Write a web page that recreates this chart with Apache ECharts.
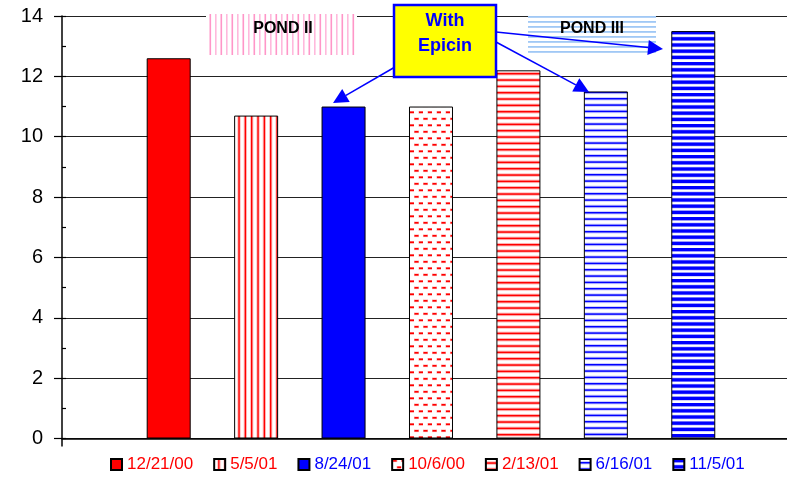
<!DOCTYPE html>
<html>
<head>
<meta charset="utf-8">
<script src="https://cdn.jsdelivr.net/npm/echarts@6/dist/echarts.min.js"></script>
<style>
  html, body { margin: 0; padding: 0; background: #fff; }
  #chart { width: 787px; height: 477px; }
</style>
</head>
<body>
<div id="chart"></div>
<script>
// Sampling dates (one bar each) and the measured values
const dates = ['12/21/00', '5/5/01', '8/24/01', '10/6/00', '2/13/01', '6/16/01', '11/5/01'];
const values = [12.6, 10.7, 11.0, 11.0, 12.2, 11.5, 13.5];

// Value axis range and step
const yMin = 0;
const yMax = 14;
const yStep = 2;

// Annotation texts
const pondTwoLabel = 'POND II';
const pondThreeLabel = 'POND III';
const epicinLines = ['With', 'Epicin'];

const FONT = '"Liberation Sans", Arial, Helvetica, sans-serif';
const RED = '#ff0000';
const BLUE = '#0000ff';

// ---- hatch fills drawn on small canvas tiles ----
function tile(w, h, draw) {
  const c = document.createElement('canvas');
  c.width = w; c.height = h;
  const ctx = c.getContext('2d');
  ctx.fillStyle = '#ffffff';
  ctx.fillRect(0, 0, w, h);
  draw(ctx, w, h);
  return { image: c, repeat: 'repeat' };
}

function vLines(color, halo, period, count, offset, width) {
  return tile(Math.round(period * count), 4, (ctx, w, h) => {
    for (let k = 0; k < count; k++) {
      const x = offset + k * period;
      ctx.fillStyle = halo;
      ctx.fillRect(x - 1, 0, width + 2, h);
      ctx.fillStyle = color;
      ctx.fillRect(x, 0, width, h);
    }
  });
}

function hLines(color, halo, period, count, offset, width) {
  return tile(4, Math.round(period * count), (ctx, w, h) => {
    for (let k = 0; k < count; k++) {
      const y = offset + k * period;
      ctx.fillStyle = halo;
      ctx.fillRect(0, y - 1, w, width + 2);
      ctx.fillStyle = color;
      ctx.fillRect(0, y, w, width);
    }
  });
}

const fills = [
  RED,
  vLines(RED, 'rgba(255,0,0,0.25)', 19 / 3, 3, 4, 1.4),
  BLUE,
  tile(9, 13, (ctx) => {
    ctx.fillStyle = 'rgba(255,120,120,0.6)';
    ctx.fillRect(0, 0.5, 5, 2.6);
    ctx.fillRect(4.5, 7, 5, 2.6);
    ctx.fillStyle = RED;
    ctx.fillRect(0.5, 1, 4, 1.6);
    ctx.fillRect(5, 7.5, 4, 1.6);
  }),
  hLines(RED, 'rgba(255,0,0,0.28)', 19 / 3, 3, 3.3, 1.5),
  hLines(BLUE, 'rgba(90,90,255,0.3)', 19 / 3, 3, 3.0, 1.5),
  tile(4, 31, (ctx, w) => {
    for (let k = 0; k < 5; k++) {
      const y = k * 6.2;
      ctx.fillStyle = 'rgba(120,120,255,0.55)';
      ctx.fillRect(0, y - 0.6, w, 4.4);
      ctx.fillStyle = BLUE;
      ctx.fillRect(0, y, w, 3.2);
    }
  })
];
const legendTextColors = [RED, RED, BLUE, RED, RED, BLUE, BLUE];

const pondTwoFill = tile(11, 4, (ctx, w, h) => {
  ctx.fillStyle = 'rgb(255,150,200)';
  ctx.fillRect(0.5, 0, 1.6, h);
  ctx.fillStyle = 'rgb(255,185,220)';
  ctx.fillRect(6, 0, 1.6, h);
});
const pondThreeFill = tile(4, 10, (ctx, w) => {
  ctx.fillStyle = 'rgb(160,200,245)';
  ctx.fillRect(0, 1, w, 1.8);
  ctx.fillRect(0, 6, w, 1.8);
});

// ---- arrow helper: line plus a triangular head ending at the tip ----
function arrow(x1, y1, x2, y2) {
  const dx = x2 - x1, dy = y2 - y1;
  const len = Math.sqrt(dx * dx + dy * dy);
  const ux = dx / len, uy = dy / len;
  const headLen = 15, headHalf = 7.5;
  const bx = x2 - ux * headLen, by = y2 - uy * headLen;
  return [
    { type: 'line', z: 20, shape: { x1: x1, y1: y1, x2: bx, y2: by },
      style: { stroke: BLUE, lineWidth: 1.5 } },
    { type: 'polygon', z: 20,
      shape: { points: [[x2, y2], [bx - uy * headHalf, by + ux * headHalf], [bx + uy * headHalf, by - ux * headHalf]] },
      style: { fill: BLUE } }
  ];
}

const chart = echarts.init(document.getElementById('chart'), null, { renderer: 'canvas' });

const xMin = -0.2204;
const xMax = 8.072;

const series = dates.map((d, i) => ({
  type: 'bar',
  name: d,
  data: [[i + 1, values[i]]],
  barWidth: 44,
  barGap: '-100%',
  itemStyle: { color: fills[i], borderColor: '#000', borderWidth: 1 },
  emphasis: { disabled: true }
}));

const graphic = [
  { type: 'rect', z: 10, shape: { x: 206, y: 14, width: 151, height: 41 },
    style: { fill: pondTwoFill } },
  { type: 'text', z: 11, x: 283, y: 28.5,
    style: { text: pondTwoLabel, fill: '#000', font: 'bold 16px ' + FONT, align: 'center', verticalAlign: 'middle' } },
  { type: 'rect', z: 10, shape: { x: 528, y: 15, width: 128, height: 38 },
    style: { fill: pondThreeFill } },
  { type: 'text', z: 11, x: 592, y: 28.5,
    style: { text: pondThreeLabel, fill: '#000', font: 'bold 16px ' + FONT, align: 'center', verticalAlign: 'middle' } },
  ...arrow(395, 67, 333, 103),
  ...arrow(496, 32, 663, 49),
  ...arrow(496, 42, 589, 92),
  { type: 'rect', z: 30, shape: { x: 394, y: 5, width: 102, height: 72 },
    style: { fill: '#ffff00', stroke: BLUE, lineWidth: 2.5 } },
  { type: 'text', z: 31, x: 445, y: 21.5,
    style: { text: epicinLines[0], fill: BLUE, font: 'bold 18px ' + FONT, align: 'center', verticalAlign: 'middle' } },
  { type: 'text', z: 31, x: 445, y: 46.5,
    style: { text: epicinLines[1], fill: BLUE, font: 'bold 18px ' + FONT, align: 'center', verticalAlign: 'middle' } }
];

chart.setOption({
  animation: false,
  backgroundColor: '#ffffff',
  grid: { left: 62, right: 0, top: 16, bottom: 38.5, containLabel: false },
  xAxis: {
    type: 'value',
    min: xMin,
    max: xMax,
    axisLine: { show: true, onZero: false, lineStyle: { color: '#000', width: 1.5 } },
    axisTick: { show: true, customValues: [xMin], length: 8, lineStyle: { color: '#000', width: 1.5 } },
    axisLabel: { show: false },
    splitLine: { show: false }
  },
  yAxis: [
    {
      type: 'value',
      min: yMin,
      max: yMax,
      interval: yStep,
      position: 'left',
      axisLine: { show: true, onZero: false, lineStyle: { color: '#000', width: 1.5 } },
      axisTick: { show: true, length: 8, lineStyle: { color: '#000', width: 1.2 } },
      axisLabel: { color: '#000', fontSize: 20, fontFamily: FONT, margin: 19 },
      splitLine: { show: true, lineStyle: { color: '#222', width: 1 } }
    },
    {
      type: 'value',
      min: yMin,
      max: yMax,
      interval: yStep / 2,
      position: 'left',
      axisLine: { show: false, onZero: false },
      axisTick: { show: true, inside: true, length: 4, lineStyle: { color: '#000', width: 1.2 } },
      axisLabel: { show: false },
      splitLine: { show: false }
    }
  ],
  legend: {
    left: 105,
    top: 451,
    icon: 'rect',
    itemWidth: 11,
    itemHeight: 11,
    itemGap: 20,
    selectedMode: false,
    textStyle: { fontSize: 17, fontFamily: FONT },
    data: dates.map((d, i) => ({ name: d, textStyle: { color: legendTextColors[i] } }))
  },
  series: series,
  graphic: graphic
});
</script>
</body>
</html>
